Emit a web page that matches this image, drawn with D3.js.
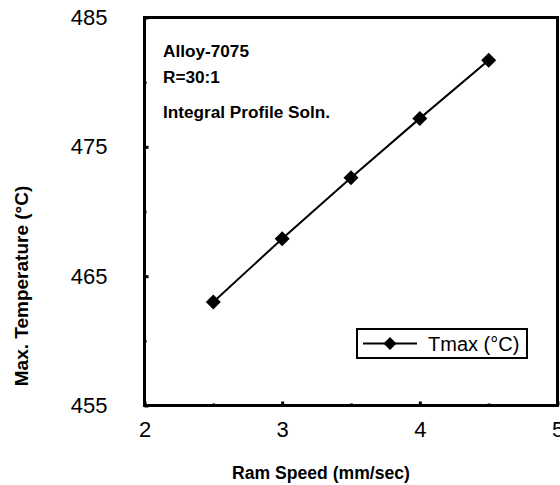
<!DOCTYPE html>
<html>
<head>
<meta charset="utf-8">
<script src="https://cdn.jsdelivr.net/npm/d3@7/dist/d3.min.js"></script>
<style>
  html, body { margin: 0; padding: 0; background: #fff; }
  svg { display: block; font-family: "Liberation Sans", Arial, sans-serif; }
</style>
</head>
<body>
<svg id="chart" width="560" height="485"></svg>
<script>
// Ram speed (mm/sec) and the resulting maximum temperature (°C)
const speed = [2.5, 3, 3.5, 4, 4.5];
const tmax = [463.0, 467.9, 472.6, 477.2, 481.7];

const xMajor = [2, 3, 4, 5];
const xMinor = [2.5, 3.5, 4.5];
const yMajor = [455, 465, 475, 485];
const yMinor = [460, 470, 480];

const notes = ["Alloy-7075", "R=30:1", "Integral Profile Soln."];
const seriesName = "Tmax (°C)";

const svg = d3.select("#chart");
const plotL = 144.5, plotR = 557.5, plotT = 17.5, plotB = 405.5;

const x = d3.scaleLinear().domain([2, 5]).range([plotL, plotR]);
const y = d3.scaleLinear().domain([455, 485]).range([plotB, plotT]);

// axes: ticks point into the plot area
const gx = svg.append("g").attr("transform", `translate(0,${plotB})`)
  .call(d3.axisBottom(x).tickValues(xMajor).tickSize(-4).tickPadding(16).tickFormat(d3.format("d")));
const gxm = svg.append("g").attr("transform", `translate(0,${plotB})`)
  .call(d3.axisBottom(x).tickValues(xMinor).tickSize(-2).tickFormat(""));
const gy = svg.append("g").attr("transform", `translate(${plotL},0)`)
  .call(d3.axisLeft(y).tickValues(yMajor).tickSize(-4).tickPadding(37).tickFormat(d3.format("d")));
const gym = svg.append("g").attr("transform", `translate(${plotL},0)`)
  .call(d3.axisLeft(y).tickValues(yMinor).tickSize(-2).tickFormat(""));

[gx, gxm, gy, gym].forEach(g => {
  g.select(".domain").remove();
  g.selectAll(".tick line").attr("stroke", "#000").attr("stroke-width", 3);
  g.selectAll("text").attr("fill", "#000").style("font-size", "22px")
    .style("font-family", "'Liberation Sans', Arial, sans-serif");
});

// plot frame
svg.append("rect")
  .attr("x", plotL).attr("y", plotT)
  .attr("width", plotR - plotL).attr("height", plotB - plotT)
  .attr("fill", "none").attr("stroke", "#000").attr("stroke-width", 3);

// series line and diamond markers
const pts = speed.map((s, i) => [s, tmax[i]]);
svg.append("path")
  .datum(pts)
  .attr("fill", "none").attr("stroke", "#000").attr("stroke-width", 2)
  .attr("d", d3.line().x(d => x(d[0])).y(d => y(d[1])));

const diamond = r => `M0,${-r}L${r},0L0,${r}L${-r},0Z`;
svg.selectAll(".marker").data(pts).join("path")
  .attr("class", "marker")
  .attr("transform", d => `translate(${x(d[0])},${y(d[1])})`)
  .attr("d", diamond(7.5))
  .attr("fill", "#000");

// annotations
const noteY = [57, 83, 118];
svg.selectAll(".note").data(notes).join("text")
  .attr("class", "note")
  .attr("x", 163).attr("y", (d, i) => noteY[i])
  .attr("font-size", 17.2).attr("font-weight", "bold").attr("fill", "#000")
  .text(d => d);

// legend
const lg = svg.append("g");
lg.append("rect").attr("x", 357).attr("y", 329).attr("width", 170).attr("height", 29)
  .attr("fill", "#fff").attr("stroke", "#000").attr("stroke-width", 2);
lg.append("line").attr("x1", 363).attr("x2", 417).attr("y1", 343.5).attr("y2", 343.5)
  .attr("stroke", "#000").attr("stroke-width", 2);
lg.append("path").attr("transform", "translate(390,343.5)").attr("d", diamond(6.5)).attr("fill", "#000");
lg.append("text").attr("x", 428).attr("y", 351).attr("font-size", 20).attr("fill", "#000").text(seriesName);

// axis titles
svg.append("text")
  .attr("x", 321).attr("y", 479)
  .attr("text-anchor", "middle").attr("font-size", 17.6).attr("font-weight", "bold").attr("fill", "#000")
  .text("Ram Speed (mm/sec)");
svg.append("text")
  .attr("transform", "translate(28,286) rotate(-90)")
  .attr("text-anchor", "middle").attr("font-size", 19).attr("font-weight", "bold").attr("fill", "#000")
  .text("Max. Temperature (°C)");
</script>
</body>
</html>
